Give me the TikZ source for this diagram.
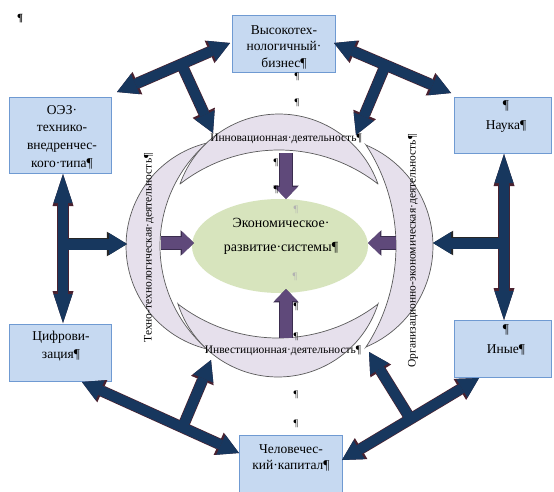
\documentclass[tikz,border=0pt]{standalone}
\usepackage{fontspec}
\setmainfont{Liberation Serif}
\usetikzlibrary{arrows.meta,calc,shapes.geometric}
\definecolor{navy}{HTML}{17375E}
\definecolor{navyline}{HTML}{4A2230}
\definecolor{boxfill}{HTML}{C6D9F1}
\definecolor{boxline}{HTML}{6F9AD2}
\definecolor{crfill}{HTML}{E6E0EC}
\definecolor{crline}{HTML}{5A5A5A}
\definecolor{ellfill}{HTML}{D7E4BD}
\definecolor{purp}{HTML}{5F497A}
\definecolor{purpline}{HTML}{3B2D4F}
\newcommand\navyarrows[1]{%
  \draw[d#1,<->] (a1s) -- (a1e);
  \draw[d#1,->] (a2s) -- (a2e);
  \draw[d#1,<->] (a3s) -- (a3e);
  \draw[d#1,->] (a4s) -- (a4e);
  \draw[d#1,<->] (a7s) -- (a7e);
  \draw[d#1,->] (a8s) -- (a8e);
  \draw[d#1,<->] (a9s) -- (a9e);
  \draw[d#1,->] (a10s) -- (a10e);
  \draw[b#1,->] (a5m) -- (a5t);
  \draw[b#1,->] (a6m) -- (a6t);
  \draw[v#1,<->] (a5s) -- (a5e);
  \draw[v#1,<->] (a6s) -- (a6e);
}
\newcommand\purparrows[1]{%
  \draw[p#1] (p1s) -- (p1e);
  \draw[p#1] (p2s) -- (p2e);
  \draw[p#1] (p3s) -- (p3e);
  \draw[p#1] (p4s) -- (p4e);
}
\begin{document}
\begin{tikzpicture}[x=1pt,y=-1pt,
  box/.style={draw=boxline, line width=0.9pt, fill=boxfill, inner sep=0pt},
  boxtext/.style={align=center, inner sep=0pt},
  crescent/.style={draw=crline, line width=0.7pt, fill=crfill},
  crlabel/.style={inner sep=0pt, font=\fontsize{11.5pt}{14pt}\selectfont},
  pil/.style={inner sep=0pt, font=\fontsize{10pt}{12pt}\selectfont},
  dF/.style={draw=navy, line width=10pt, >={Triangle[width=22pt,length=20pt,line width=0pt]}},
  dO/.style={draw=navyline, line width=11.4pt, >={Triangle[width=24.5pt,length=22.3pt,line width=0pt]}},
  vF/.style={draw=navy, line width=10pt, >={Triangle[width=19pt,length=29pt,line width=0pt]}},
  vO/.style={draw=navyline, line width=11.4pt, >={Triangle[width=21pt,length=32pt,line width=0pt]}},
  bF/.style={draw=navy, line width=11pt, >={Triangle[width=22pt,length=18pt,line width=0pt]}},
  bO/.style={draw=black!85, line width=12.4pt, >={Triangle[width=24.6pt,length=20.2pt,line width=0pt]}},
  pF/.style={draw=purp, line width=12pt, -{Triangle[width=23pt,length=12pt,line width=0pt]}},
  pO/.style={draw=purpline, line width=13.4pt, -{Triangle[width=25.6pt,length=13.4pt,line width=0pt]}}]
\useasboundingbox (0,0) rectangle (554,491);
\fill[white] (0,0) rectangle (554,491);

% crescents: left and right first
\filldraw[crescent] plot[domain=103.6:256.4, samples=60] ({232+106*cos(\x)}, {246-106*sin(\x)})
  -- plot[domain=229.1:130.9, samples=60] ({296.4+136.4*cos(\x)}, {246-136.4*sin(\x)}) -- cycle;
\filldraw[crescent] plot[domain=67.1:-67.1, samples=60] ({323.4+109.6*cos(\x)}, {246-109.6*sin(\x)})
  -- plot[domain=-33.1:33.1, samples=60] ({211+185*cos(\x)}, {246-185*sin(\x)}) -- cycle;
% top and bottom
\filldraw[crescent] plot[domain=160.5:19.5, samples=60] ({279+105*cos(\x)}, {219-105*sin(\x)})
  -- plot[domain=52.1:127.9, samples=60] ({279+161.1*cos(\x)}, {311.1-161.1*sin(\x)}) -- cycle;
\filldraw[crescent] plot[domain=197.7:342.3, samples=60] ({278+105*cos(\x)}, {272-105*sin(\x)})
  -- plot[domain=307.5:232.5, samples=60] ({278+164.1*cos(\x)}, {173.9-164.1*sin(\x)}) -- cycle;

% crescent labels
\node[crlabel] (innov) at (286,139) {Инновационная·деятельность¶};
\node[crlabel] (invest) at (283,351) {Инвестиционная·деятельность¶};
\node[crlabel, rotate=90] (techno) at (149,248) {Техно-технологическая·деятельность¶};
\node[crlabel, rotate=90] (orgec) at (413,251) {Организационно-экономическая·деятельность¶};

% centre ellipse
\node[ellipse, fill=ellfill, minimum width=176pt, minimum height=94pt, inner sep=0pt] (econ) at (280,246) {};
\node[pil, text=black!30] (pe1) at (296,210) {¶};
\node[pil, text=black!30] (pe2) at (295,277) {¶};
\node[align=center, inner sep=0pt, font=\fontsize{14pt}{24pt}\selectfont] (econt) at (281,236) {Экономическое·\\развитие·системы¶};

% purple arrows
\coordinate (p1s) at (286,153); \coordinate (p1e) at (286,199);
\coordinate (p2s) at (286,338); \coordinate (p2e) at (286,289);
\coordinate (p3s) at (161,243); \coordinate (p3e) at (194,243);
\coordinate (p4s) at (396,243); \coordinate (p4e) at (368,243);
\purparrows{O}
\purparrows{F}

% boxes
\node[box, minimum width=103pt, minimum height=57pt] (tb) at (283.5,43.5) {};
\node[box, minimum width=102pt, minimum height=76pt] (oez) at (60,135) {};
\node[box, minimum width=97pt, minimum height=56pt] (nauka) at (502.5,125) {};
\node[box, minimum width=102pt, minimum height=57pt] (cif) at (60,352.5) {};
\node[box, minimum width=97pt, minimum height=57pt] (inye) at (502.5,348.5) {};
\node[box, minimum width=103pt, minimum height=62pt] (hc) at (290.5,466) {};

% navy arrows
\coordinate (a1s) at (117,92);  \coordinate (a1e) at (230,43);
\coordinate (a2s) at ($(a1s)!0.57!(a1e)$); \coordinate (a2e) at (213,133);
\coordinate (a3s) at (334,43);  \coordinate (a3e) at (451,93);
\coordinate (a4s) at ($(a3s)!0.44!(a3e)$); \coordinate (a4e) at (356,135);
\coordinate (a5s) at (63,174);  \coordinate (a5e) at (63,323);
\coordinate (a5m) at (63,244);  \coordinate (a5t) at (127,244);
\coordinate (a6s) at (504,154); \coordinate (a6e) at (504,320);
\coordinate (a6m) at (504,243); \coordinate (a6t) at (433,243);
\coordinate (a7s) at (82,382);  \coordinate (a7e) at (239,453);
\coordinate (a8s) at ($(a7s)!0.64!(a7e)$); \coordinate (a8e) at (211,360);
\coordinate (a9s) at (342,460); \coordinate (a9e) at (479,378);
\coordinate (a10s) at ($(a9s)!0.5!(a9e)$); \coordinate (a10e) at (369,352);
\navyarrows{O}
\navyarrows{F}

% box texts
\node[boxtext, font=\fontsize{13.5pt}{16.5pt}\selectfont] (tbt) at (284,47) {Высокотех-\\нологичный·\\бизнес¶};
\node[boxtext, font=\fontsize{13.5pt}{17.7pt}\selectfont] (oezt) at (62,137) {ОЭЗ·\\технико-\\внедренчес-\\кого·типа¶};
\node[boxtext, font=\fontsize{13.5pt}{20pt}\selectfont] (naukat) at (506,117) {¶\\Наука¶};
\node[boxtext, font=\fontsize{13.5pt}{18pt}\selectfont] (cift) at (61,346) {Цифрови-\\зация¶};
\node[boxtext, font=\fontsize{13.5pt}{20pt}\selectfont] (inyet) at (506,340) {¶\\Иные¶};
\node[boxtext, font=\fontsize{13.5pt}{16pt}\selectfont] (hct) at (291,458) {Человечес-\\кий·капитал¶};

% stray paragraph marks
\node[pil, font=\bfseries\fontsize{11pt}{12pt}\selectfont] (pm0) at (20,19) {¶};
\node[pil] (pm1) at (297,77) {¶};
\node[pil] (pm2) at (297,103) {¶};
\node[pil] (pm3) at (276,163) {¶};
\node[pil] (pm4) at (276,190) {¶};
\node[pil] (pm5) at (296,307) {¶};
\node[pil] (pm6) at (296,337) {¶};
\node[pil] (pm7) at (296,395) {¶};
\node[pil] (pm8) at (296,424) {¶};
\end{tikzpicture}
\end{document}
